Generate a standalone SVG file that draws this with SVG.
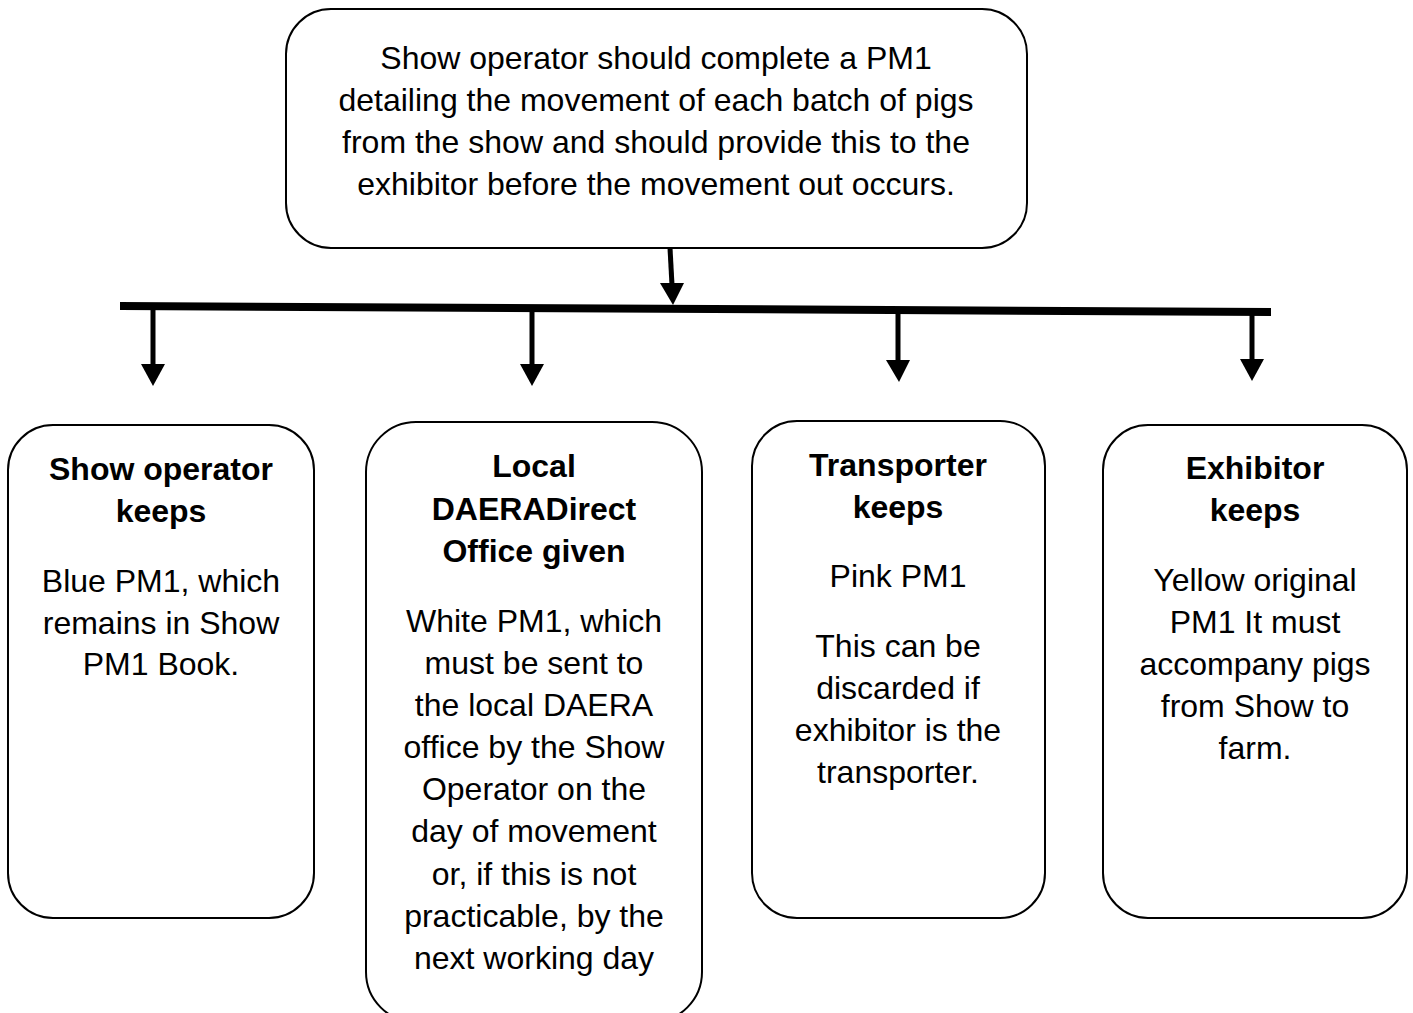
<svg xmlns="http://www.w3.org/2000/svg" width="1413" height="1013" viewBox="0 0 1413 1013">
<style>
.box{fill:#fff;stroke:#000;stroke-width:2}
text{font-family:"Liberation Sans",Arial,sans-serif;font-size:32px;fill:#000;text-anchor:middle}
.b{font-weight:bold}
.ln{stroke:#000;fill:none}
.ah{fill:#000}
</style>
<rect width="1413" height="1013" fill="#fff"/>
<g id="connectors">
<line class="ln" x1="120" y1="306" x2="1271" y2="312" stroke-width="8"/>
<line class="ln" x1="670" y1="248" x2="672" y2="285" stroke-width="5"/>
<path class="ah" d="M660,283 L684,283 L673,305 Z"/>
<line class="ln" x1="153" y1="306" x2="153" y2="366" stroke-width="5"/>
<path class="ah" d="M141,364 L165,364 L153,386 Z"/>
<line class="ln" x1="532" y1="308" x2="532" y2="366" stroke-width="5"/>
<path class="ah" d="M520,364 L544,364 L532,386 Z"/>
<line class="ln" x1="898" y1="310" x2="898" y2="362" stroke-width="5"/>
<path class="ah" d="M886,360 L910,360 L899,382 Z"/>
<line class="ln" x1="1252" y1="312" x2="1252" y2="361" stroke-width="5"/>
<path class="ah" d="M1240,359 L1264,359 L1252,381 Z"/>
</g>
<g id="top">
<rect class="box" x="286" y="9" width="741" height="239" rx="45"/>
<text x="656" y="69">Show operator should complete a PM1</text>
<text x="656" y="111">detailing the movement of each batch of pigs</text>
<text x="656" y="153">from the show and should provide this to the</text>
<text x="656" y="195">exhibitor before the movement out occurs.</text>
</g>
<g id="show-operator">
<rect class="box" x="8" y="425" width="306" height="493" rx="45"/>
<text class="b" x="161" y="480">Show operator</text>
<text class="b" x="161" y="522">keeps</text>
<text x="161" y="592">Blue PM1, which</text>
<text x="161" y="634">remains in Show</text>
<text x="161" y="675">PM1 Book.</text>
</g>
<g id="daera">
<rect class="box" x="366" y="422" width="336" height="600" rx="50"/>
<text class="b" x="534" y="477">Local</text>
<text class="b" x="534" y="520">DAERADirect</text>
<text class="b" x="534" y="562">Office given</text>
<text x="534" y="632">White PM1, which</text>
<text x="534" y="674">must be sent to</text>
<text x="534" y="716">the local DAERA</text>
<text x="534" y="758">office by the Show</text>
<text x="534" y="800">Operator on the</text>
<text x="534" y="842">day of movement</text>
<text x="534" y="885">or, if this is not</text>
<text x="534" y="927">practicable, by the</text>
<text x="534" y="969">next working day</text>
</g>
<g id="transporter">
<rect class="box" x="752" y="421" width="293" height="497" rx="45"/>
<text class="b" x="898" y="476">Transporter</text>
<text class="b" x="898" y="518">keeps</text>
<text x="898" y="587">Pink PM1</text>
<text x="898" y="657">This can be</text>
<text x="898" y="699">discarded if</text>
<text x="898" y="741">exhibitor is the</text>
<text x="898" y="783">transporter.</text>
</g>
<g id="exhibitor">
<rect class="box" x="1103" y="425" width="304" height="493" rx="45"/>
<text class="b" x="1255" y="479">Exhibitor</text>
<text class="b" x="1255" y="521">keeps</text>
<text x="1255" y="591">Yellow original</text>
<text x="1255" y="633">PM1 It must</text>
<text x="1255" y="675">accompany pigs</text>
<text x="1255" y="717">from Show to</text>
<text x="1255" y="759">farm.</text>
</g>
</svg>
